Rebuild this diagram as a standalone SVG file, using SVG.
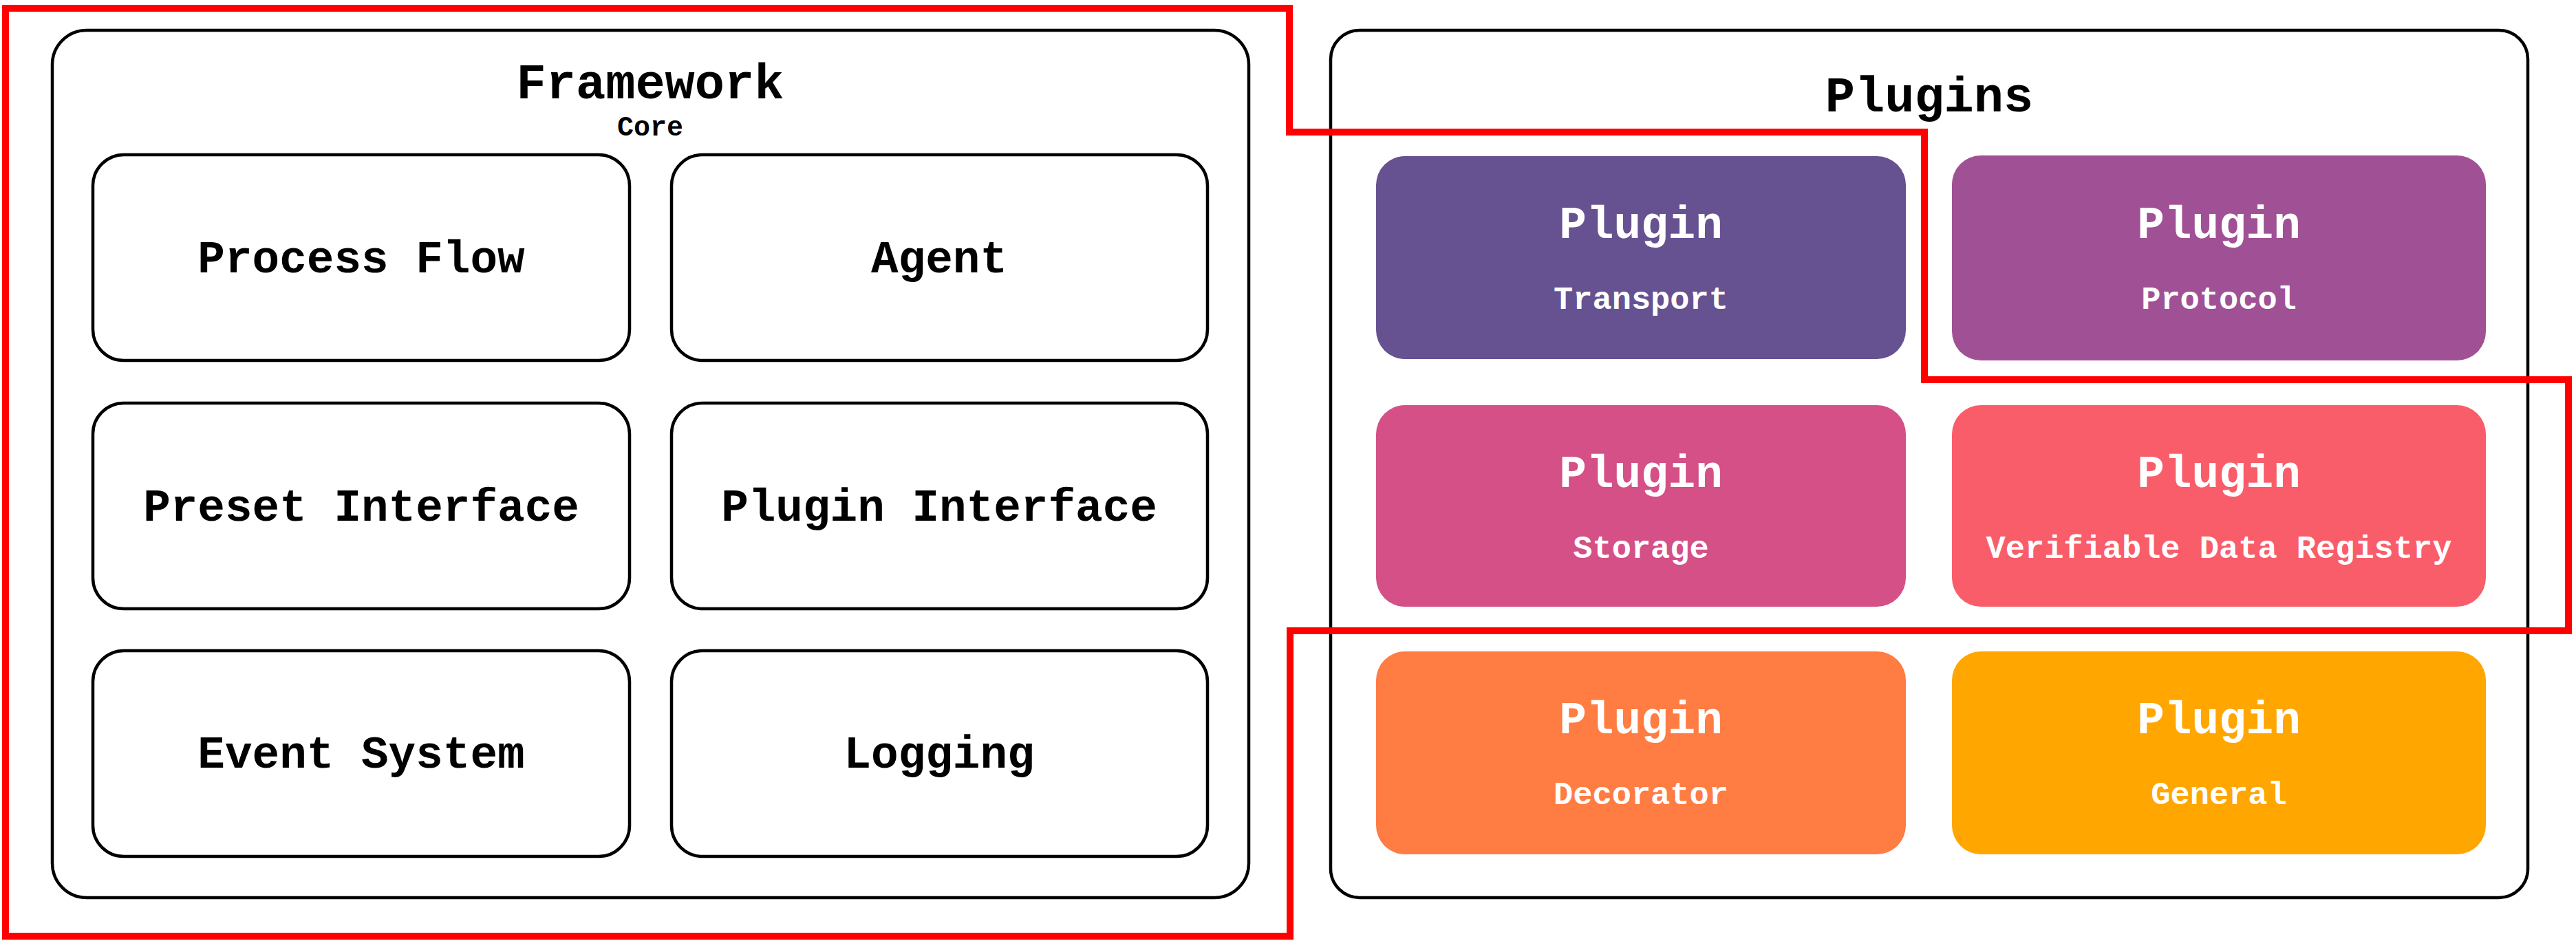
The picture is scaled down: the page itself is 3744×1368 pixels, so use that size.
<svg xmlns="http://www.w3.org/2000/svg" width="3744" height="1368" viewBox="0 0 3744 1368">
<style>
.bg{fill:#ffffff}
.container{fill:#ffffff;stroke:#000000;stroke-width:4.5}
.core{fill:#ffffff;stroke:#000000;stroke-width:4.5}
.t{font-family:"Liberation Mono","Courier New",monospace;font-weight:bold;text-anchor:middle}
.title{font-size:72px;fill:#000000}
.sub{font-size:40px;fill:#000000}
.label{font-size:66px;fill:#000000}
.ptitle{font-size:66px;fill:#ffffff}
.psub{font-size:47px;fill:#ffffff}
.hl{fill:none;stroke:#ff0000;stroke-width:10;stroke-linejoin:miter}
</style>
<rect class="bg" x="0" y="0" width="3744" height="1368"/>
<g id="framework">
  <rect class="container" x="76" y="44" width="1739" height="1261" rx="50" ry="50"/>
  <text class="t title" x="945" y="143">Framework</text>
  <text class="t sub" x="945" y="197">Core</text>
</g>
<g id="process-flow">
  <rect class="core" x="135" y="225" width="780" height="299" rx="45" ry="45"/>
  <text class="t label" x="525" y="396">Process Flow</text>
</g>
<g id="agent">
  <rect class="core" x="976" y="225" width="779" height="299" rx="45" ry="45"/>
  <text class="t label" x="1365" y="396">Agent</text>
</g>
<g id="preset-interface">
  <rect class="core" x="135" y="586" width="780" height="299" rx="45" ry="45"/>
  <text class="t label" x="525" y="757">Preset Interface</text>
</g>
<g id="plugin-interface">
  <rect class="core" x="976" y="586" width="779" height="299" rx="45" ry="45"/>
  <text class="t label" x="1365" y="757">Plugin Interface</text>
</g>
<g id="event-system">
  <rect class="core" x="135" y="946" width="780" height="299" rx="45" ry="45"/>
  <text class="t label" x="525" y="1116">Event System</text>
</g>
<g id="logging">
  <rect class="core" x="976" y="946" width="779" height="299" rx="45" ry="45"/>
  <text class="t label" x="1365" y="1116">Logging</text>
</g>
<g id="plugins">
  <rect class="container" x="1934" y="44" width="1740" height="1261" rx="42" ry="42"/>
  <text class="t title" x="2804" y="162">Plugins</text>
</g>
<g id="plugin-transport">
  <rect x="2000" y="227" width="770" height="295" rx="42" ry="42" fill="#665191"/>
  <text class="t ptitle" x="2385" y="346">Plugin</text>
  <text class="t psub" x="2385" y="449">Transport</text>
</g>
<g id="plugin-protocol">
  <rect x="2837" y="226" width="776" height="298" rx="42" ry="42" fill="#a05195"/>
  <text class="t ptitle" x="3225" y="346">Plugin</text>
  <text class="t psub" x="3225" y="449">Protocol</text>
</g>
<g id="plugin-storage">
  <rect x="2000" y="589" width="770" height="293" rx="42" ry="42" fill="#d45087"/>
  <text class="t ptitle" x="2385" y="708">Plugin</text>
  <text class="t psub" x="2385" y="811">Storage</text>
</g>
<g id="plugin-vdr">
  <rect x="2837" y="589" width="776" height="293" rx="42" ry="42" fill="#f95d6a"/>
  <text class="t ptitle" x="3225" y="708">Plugin</text>
  <text class="t psub" x="3225" y="811">Verifiable Data Registry</text>
</g>
<g id="plugin-decorator">
  <rect x="2000" y="947" width="770" height="295" rx="42" ry="42" fill="#ff7c43"/>
  <text class="t ptitle" x="2385" y="1066">Plugin</text>
  <text class="t psub" x="2385" y="1169">Decorator</text>
</g>
<g id="plugin-general">
  <rect x="2837" y="947" width="776" height="295" rx="42" ry="42" fill="#ffa600"/>
  <text class="t ptitle" x="3225" y="1066">Plugin</text>
  <text class="t psub" x="3225" y="1169">General</text>
</g>
<g id="connectors">
  <path class="hl" d="M 8 12 H 1874 V 192 H 2797 V 552 H 3733 V 917 H 1875 V 1361 H 8 Z"/>
</g>
</svg>
